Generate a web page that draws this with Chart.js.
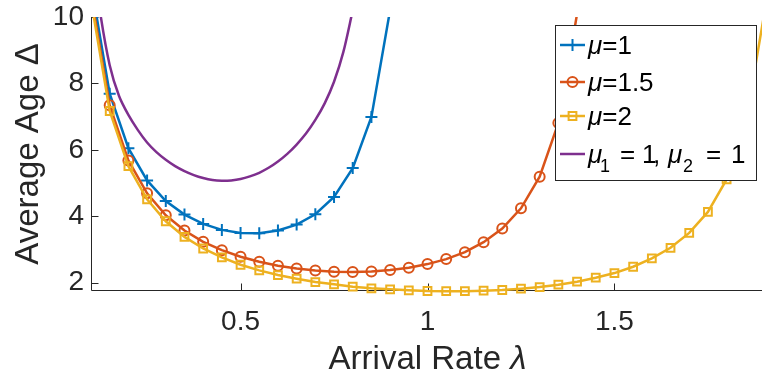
<!DOCTYPE html>
<html>
<head>
<meta charset="utf-8">
<script src="https://cdn.jsdelivr.net/npm/chart.js@4.4.0/dist/chart.umd.min.js"></script>
<style>
  html, body { margin: 0; padding: 0; background: #fff; overflow: hidden; }
  #wrap { position: relative; width: 764px; height: 381px; }
</style>
</head>
<body>
<div id="wrap"><canvas id="ageChart"></canvas></div>
<script>
// arrival rates where the markers sit (step 0.05)
var lambdaMarks = [0.1, 0.15, 0.2, 0.25, 0.3, 0.35, 0.4, 0.45, 0.5, 0.55, 0.6, 0.65, 0.7, 0.75, 0.8, 0.85, 0.9, 0.95,
                   1.0, 1.05, 1.1, 1.15, 1.2, 1.25, 1.3, 1.35, 1.4, 1.45, 1.5, 1.55, 1.6, 1.65, 1.7, 1.75, 1.8, 1.85, 1.9];
// finer rates for the two-server curve
var lambdaFine = [0.1, 0.125, 0.15, 0.175, 0.2, 0.225, 0.25, 0.275, 0.3, 0.325, 0.35, 0.375, 0.4, 0.425, 0.45,
                  0.475, 0.5, 0.525, 0.55, 0.575, 0.6, 0.625, 0.65, 0.675, 0.7, 0.725, 0.75, 0.775, 0.8];

var ageMu1 = [11.01, 7.69, 6.05, 5.08, 4.46, 4.05, 3.77, 3.59, 3.50, 3.49, 3.57, 3.75, 4.06, 4.58, 5.45, 6.99, 10.21];
var ageMu15 = [10.67, 7.34, 5.68, 4.69, 4.03, 3.57, 3.23, 2.98, 2.78, 2.63, 2.51, 2.43, 2.37, 2.33, 2.32, 2.34,
               2.38, 2.45, 2.56, 2.71, 2.92, 3.22, 3.63, 4.24, 5.19, 6.81, 10.09];
var ageMu2 = [10.50, 7.17, 5.51, 4.51, 3.85, 3.38, 3.03, 2.76, 2.54, 2.37, 2.23, 2.12, 2.02, 1.95, 1.88, 1.83, 1.80,
              1.77, 1.75, 1.743, 1.745, 1.76, 1.78, 1.82, 1.87, 1.94, 2.03, 2.15, 2.29, 2.48, 2.73, 3.05, 3.50, 4.13,
              5.11, 6.75, 10.05];
var agePair = [12.2, 10.1, 8.55, 7.62, 7.05, 6.60, 6.22, 5.93, 5.70, 5.51, 5.36, 5.24, 5.15, 5.09, 5.07, 5.08, 5.12,
               5.20, 5.31, 5.46, 5.65, 5.88, 6.16, 6.49, 6.90, 7.40, 8.05, 8.95, 10.2];

var xTicks = [0.5, 1, 1.5];
var yTicks = [2, 4, 6, 8, 10];

var ink = '#262626';
var fontName = '"Liberation Sans", Arial, sans-serif';

function pts(xs, ys) {
    return ys.map(function (v, i) { return { x: xs[i], y: v }; });
}

// hide markers of points that lie above the y limit
function radiusBelowTop(r) {
    return function (c) { return c.raw && c.raw.y > 10 ? 0 : r; };
}

// legend text pieces; dx = fixed offset from the text start (TeX-like spacing)
var legendRows = [
    [{ t: '\u03bc', it: true }, { t: '=1' }],
    [{ t: '\u03bc', it: true }, { t: '=1.5' }],
    [{ t: '\u03bc', it: true }, { t: '=2' }],
    [{ t: '\u03bc', it: true, dx: 0 }, { t: '1', sub: true, dx: 12 }, { t: '=', dx: 32 }, { t: '1', dx: 54 },
     { t: ',', dx: 65 }, { t: '\u03bc', it: true, dx: 80 }, { t: '2', sub: true, dx: 95 }, { t: '=', dx: 118 },
     { t: '1', dx: 143 }]
];
var legendY = [45, 82, 116, 154];
var markerSize = [6, 5, 5.5, 0];

// axes lines, inward ticks and the x title, under the data like MATLAB
var axesPlugin = {
    id: 'axesLines',
    beforeDatasetsDraw: function (chart) {
        var ctx = chart.ctx, a = chart.chartArea, x = chart.scales.x, y = chart.scales.y;
        var lx = Math.round(a.left) + 0.5, by = Math.round(a.bottom) - 0.5;
        ctx.save();
        ctx.strokeStyle = ink;
        ctx.lineWidth = 1;
        ctx.beginPath();
        ctx.moveTo(lx, a.top);
        ctx.lineTo(lx, by);
        ctx.lineTo(a.right, by);
        xTicks.forEach(function (v) {
            var px = Math.round(x.getPixelForValue(v)) + 0.5;
            ctx.moveTo(px, by);
            ctx.lineTo(px, by - 7);
        });
        yTicks.forEach(function (v) {
            var py = Math.round(y.getPixelForValue(v)) + 0.5;
            ctx.moveTo(lx, py);
            ctx.lineTo(lx + 7, py);
        });
        ctx.stroke();

        // x title with italic lambda
        ctx.fillStyle = ink;
        ctx.textBaseline = 'alphabetic';
        ctx.font = '33px ' + fontName;
        var t1 = 'Arrival Rate ';
        var w1 = ctx.measureText(t1).width;
        ctx.font = 'italic 33px ' + fontName;
        var w2 = ctx.measureText('\u03bb').width;
        var cx = (a.left + a.right) / 2 - (w1 + w2) / 2;
        ctx.font = '33px ' + fontName;
        ctx.fillText(t1, cx, 369);
        ctx.font = 'italic 33px ' + fontName;
        ctx.fillText('\u03bb', cx + w1, 369);
        ctx.restore();
    },
    afterDatasetsDraw: function (chart) {
        var ctx = chart.ctx;
        ctx.save();
        ctx.fillStyle = '#fff';
        ctx.fillRect(555.5, 25.5, 201, 155);
        ctx.strokeStyle = ink;
        ctx.lineWidth = 1;
        ctx.strokeRect(555.5, 25.5, 201, 155);

        chart.data.datasets.forEach(function (ds, i) {
            var cy = legendY[i];
            ctx.strokeStyle = ds.borderColor;
            ctx.lineWidth = 2.5;
            ctx.beginPath();
            ctx.moveTo(560, cy);
            ctx.lineTo(585, cy);
            ctx.stroke();
            if (markerSize[i] > 0) {
                ctx.lineWidth = 2;
                ctx.fillStyle = 'rgba(0,0,0,0)';
                Chart.helpers.drawPoint(ctx, { pointStyle: ds.pointStyle, radius: markerSize[i], borderWidth: 2, rotation: 0 }, 572.5, cy);
            }
            var x0 = 588, tx = x0, base = cy + 9;
            ctx.fillStyle = '#000';
            ctx.textBaseline = 'alphabetic';
            legendRows[i].forEach(function (seg) {
                var size = seg.sub ? 18 : 26;
                ctx.font = (seg.it ? 'italic ' : '') + size + 'px ' + fontName;
                if (seg.dx !== undefined) tx = x0 + seg.dx;
                ctx.fillText(seg.t, tx, seg.sub ? base + 9 : base);
                tx += ctx.measureText(seg.t).width;
            });
        });
        ctx.restore();
    }
};

function lineSet(label, xs, ys, color, style, r, order) {
    return {
        label: label,
        data: pts(xs, ys),
        borderColor: color,
        backgroundColor: color,
        borderWidth: 2.5,
        pointStyle: style,
        pointRadius: radiusBelowTop(r),
        pointBorderWidth: 2,
        pointBackgroundColor: 'rgba(0,0,0,0)',
        pointBorderColor: color,
        pointHoverRadius: 0,
        tension: 0,
        order: order,
        clip: { left: 0, top: 0, right: 10, bottom: 10 }
    };
}

var purple = lineSet('\u03bc1 = 1, \u03bc2 = 1', lambdaFine, agePair, '#7E2F8E', false, 0, 0);
purple.tension = 0.3;

new Chart(document.getElementById('ageChart'), {
    type: 'line',
    data: {
        datasets: [
            lineSet('\u03bc=1', lambdaMarks, ageMu1, '#0072BD', 'cross', 6, 3),
            lineSet('\u03bc=1.5', lambdaMarks, ageMu15, '#D95319', 'circle', 5, 2),
            lineSet('\u03bc=2', lambdaMarks, ageMu2, '#EDB120', 'rect', 5.5, 1),
            purple
        ]
    },
    options: {
        responsive: true,
        maintainAspectRatio: false,
        animation: false,
        devicePixelRatio: 1,
        layout: { padding: { top: 17, right: 0, bottom: 0, left: 0 } },
        plugins: { legend: { display: false }, tooltip: { enabled: false } },
        scales: {
            x: {
                type: 'linear',
                min: 0.1,
                max: 1.9,
                grid: { display: false, drawTicks: false },
                border: { display: false },
                afterBuildTicks: function (s) { s.ticks = xTicks.map(function (v) { return { value: v }; }); },
                afterFit: function (s) { s.height = 90; s.paddingLeft = 0; s.paddingRight = 0; },
                ticks: {
                    color: ink,
                    padding: 14,
                    maxRotation: 0,
                    font: { family: fontName, size: 28 },
                    callback: function (v) { return String(v); }
                }
            },
            y: {
                type: 'linear',
                min: 1.75,
                max: 10,
                grid: { display: false, drawTicks: false },
                border: { display: false },
                afterBuildTicks: function (s) { s.ticks = yTicks.map(function (v) { return { value: v }; }); },
                afterFit: function (s) { s.width = 91; s.paddingTop = 0; s.paddingBottom = 0; },
                ticks: {
                    color: ink,
                    padding: 7,
                    font: { family: fontName, size: 28 },
                    callback: function (v) { return String(v); }
                },
                title: {
                    display: true,
                    text: 'Average Age \u0394',
                    color: ink,
                    padding: { top: 9, bottom: 0 },
                    font: { family: fontName, size: 33 }
                }
            }
        }
    },
    plugins: [axesPlugin]
});
</script>
</body>
</html>
